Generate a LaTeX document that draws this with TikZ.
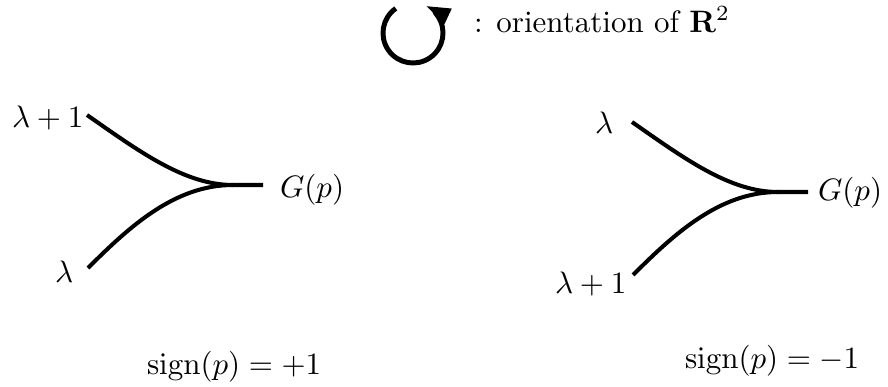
\documentclass[tikz,border=0pt]{standalone}
\usetikzlibrary{arrows.meta}
\begin{document}
\begin{tikzpicture}[x=0.3226pt,y=-0.3226pt,
  lbl/.style={anchor=base west,inner sep=0pt,outer sep=0pt},
  fork/.style={line width=1.3pt,line cap=butt}]
\useasboundingbox (0,0) rectangle (888,387);
% orientation symbol
\coordinate (c) at (413,33);
\draw[line width=1.6pt,-{Triangle[length=8pt,width=5pt]}]
  ([shift={(125:9.68pt)}]c) arc[start angle=125,end angle=425,radius=9.68pt];
\node[lbl] (orient) at (474,32) {: orientation of $\mathbf{R}^2$};
% left fork
\node[lbl] (la) at (12,127) {$\lambda+1$};
\node[lbl] (lb) at (55,282) {$\lambda$};
\node[lbl] (lg) at (280,197) {$G(p)$};
\coordinate (la0) at (87,115);
\coordinate (lb0) at (88,268);
\coordinate (lm) at (233,185);
\coordinate (le) at (263,185);
\draw[fork] (la0) .. controls (140,152) and (185,185) .. (lm) -- (le);
\draw[fork] (lb0) .. controls (130,226) and (175,185) .. (lm);
\node[lbl] (ls) at (147,374) {$\mathrm{sign}(p)=+1$};
% right fork
\node[lbl] (ra) at (595,133) {$\lambda$};
\node[lbl] (rb) at (555,293) {$\lambda+1$};
\node[lbl] (rg) at (818,200) {$G(p)$};
\coordinate (ra0) at (632,122);
\coordinate (rb0) at (633,275);
\coordinate (rm) at (778,192);
\coordinate (re) at (808,192);
\draw[fork] (ra0) .. controls (685,159) and (730,192) .. (rm) -- (re);
\draw[fork] (rb0) .. controls (675,233) and (720,192) .. (rm);
\node[lbl] (rs) at (685,368) {$\mathrm{sign}(p)=-1$};
\end{tikzpicture}
\end{document}
